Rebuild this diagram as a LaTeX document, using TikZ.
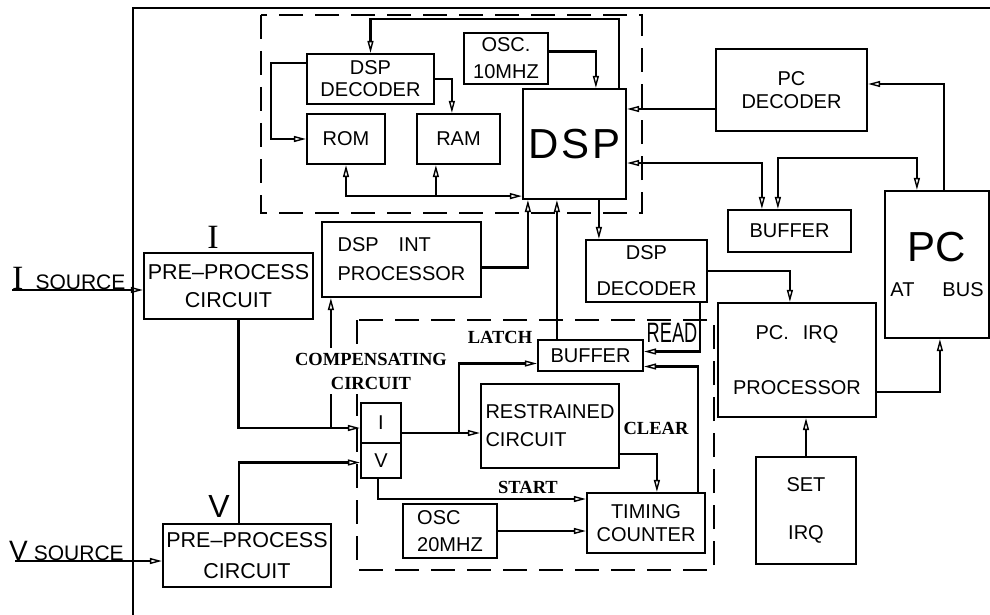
\documentclass[tikz,border=0pt]{standalone}
\usepackage{fontspec}
\setmainfont{Liberation Sans}
\newfontfamily\lblserif{Liberation Serif}
\usepackage{graphicx}
\usetikzlibrary{arrows.meta,positioning}

\begin{document}
\begin{tikzpicture}[
        x=1pt,y=-1pt,
        >={Triangle[open,length=12pt,width=6pt,line width=1.4pt]},
        blk/.style={draw,line width=2.2pt,align=center,inner sep=2pt,
                    font=\fontsize{20}{27}\selectfont},
        grp/.style={draw,line width=2.2pt,dash pattern=on 24pt off 12pt},
        arr/.style={line width=2.2pt,->},
        arrb/.style={line width=2.2pt,<->},
        tag/.style={font=\lblserif\bfseries\fontsize{18.5}{24}\selectfont,
                    align=center,inner sep=1pt}]

        \useasboundingbox (0,0) rectangle (990,615);
        \draw[line width=2.2pt] (133,615) -- (133,8) -- (990,8);

        \draw[grp] (261,15) rectangle (642,213);
        \draw[grp] (357,320) rectangle (714,570);

        \node[blk,minimum width=127pt,minimum height=50pt,font=\fontsize{20}{22}\selectfont]
              (ddec1) at (370.5,79) {DSP\\DECODER};
        \node[blk,minimum width=78pt,minimum height=50pt] (rom) at (346,139) {ROM};
        \node[blk,minimum width=83pt,minimum height=50pt] (ram) at (458.5,139) {RAM};
        \node[blk,minimum width=84pt,minimum height=51pt] (osc10) at (506,58.5) {OSC.\\10MHZ};
        \node[blk,minimum width=103pt,minimum height=110pt,font=\fontsize{42}{42}\selectfont,
              text depth=-6pt]
              (dsp) at (574.5,144) {D\hspace{3pt}S\hspace{3pt}P};
        \node[blk,minimum width=151pt,minimum height=82pt,font=\fontsize{20}{23}\selectfont]
              (pcdec) at (791.5,90) {PC\\DECODER};
        \node[blk,minimum width=123pt,minimum height=42pt] (buf1) at (789.5,231) {BUFFER};
        \node[blk,minimum width=104pt,minimum height=147pt,font=\fontsize{20}{35}\selectfont]
              (pcbus) at (937,264.5) {{\fontsize{42}{42}\selectfont PC}\\AT\hspace{28pt}BUS};
        \node[blk,minimum width=121pt,minimum height=62pt,font=\fontsize{20}{36}\selectfont]
              (ddec2) at (646.5,271) {DSP\\DECODER};
        \node[blk,minimum width=158pt,minimum height=114pt,font=\fontsize{20}{55}\selectfont]
              (irqp) at (797,360) {PC.\hspace{14pt}IRQ\\PROCESSOR};
        \node[blk,minimum width=100pt,minimum height=107pt,font=\fontsize{20}{48}\selectfont]
              (setirq) at (806,510.5) {SET\\IRQ};
        \node[blk,minimum width=159pt,minimum height=75pt,align=left,font=\fontsize{20}{29}\selectfont]
              (dspint) at (401.5,259.5) {DSP\hspace{20pt}INT\\PROCESSOR};
        \node[blk,minimum width=169pt,minimum height=66pt,font=\fontsize{21.5}{28}\selectfont]
              (pre1) at (228.5,286) {PRE–PROCESS\\CIRCUIT};
        \node[blk,minimum width=168pt,minimum height=63pt,font=\fontsize{21.5}{31}\selectfont]
              (pre2) at (247,555.5) {PRE–PROCESS\\CIRCUIT};
        \node[blk,minimum width=105pt,minimum height=31pt] (buf2) at (590.5,355.5) {BUFFER};
        \node[blk,minimum width=40pt,minimum height=40pt] (ibox) at (381,423) {I};
        \node[blk,minimum width=40pt,minimum height=35pt] (vbox) at (381,460.5) {V};
        \node[blk,minimum width=138pt,minimum height=84pt,align=left,font=\fontsize{20}{28}\selectfont]
              (restr) at (550,426) {RESTRAINED\\CIRCUIT};
        \node[blk,minimum width=118pt,minimum height=60pt,font=\fontsize{20}{23}\selectfont]
              (timing) at (646,523) {TIMING\\COUNTER};
        \node[blk,minimum width=94pt,minimum height=54pt,align=left,font=\fontsize{20}{27}\selectfont]
              (osc20) at (450,531) {OSC\\20MHZ};

        \draw[arr] ([xshift=-8pt]dsp.north east) -- ++(0,-69) -| (ddec1.north);
        \draw[arr] ([yshift=7pt]osc10.east) -| ([xshift=74pt]dsp.north west);
        \draw[arr] (ddec1.east) -| ([xshift=36pt]ram.north west);
        \draw[arr] ([yshift=16pt]ddec1.west) -- ++(-35,0) |- (rom.west);
        \coordinate (bus) at ([yshift=4pt]dsp.south west);
        \coordinate (rb) at ([xshift=20pt]ram.south west);
        \draw[arrb] (rom.south) |- (bus);
        \draw[arr] (rb |- bus) -- (rb);

        \coordinate (pd) at ([yshift=-19pt]pcdec.west);
        \draw[arr] (pd) -- (pd -| dsp.east);
        \draw[arr] ([xshift=60pt]pcbus.north west) |- ([yshift=6pt]pcdec.east);
        \draw[arrb] ([yshift=-19pt]dsp.east) -| ([xshift=35pt]buf1.north west);
        \draw[arrb] ([xshift=51pt]buf1.north west) -- ++(0,-51) -| ([xshift=33pt]pcbus.north west);
        \draw[arr] ([xshift=77pt]dsp.south west) -- ([xshift=14pt]ddec2.north west);
        \draw[arr] (ddec2.east) -| ([xshift=73pt]irqp.north west);
        \draw[arr] ([yshift=-32pt]irqp.east) -| ([xshift=56pt]pcbus.south west);
        \draw[arr] (setirq.north) -- (setirq.north |- irqp.south);

        \draw[arr] ([yshift=-8pt]dspint.east) -| ([xshift=6pt]dsp.south west);
        \coordinate (bt) at ([xshift=20pt]buf2.north west);
        \draw[arr] (bt) -- (bt |- dsp.south);
        \draw[arr] ([xshift=-8pt]ddec2.south east) |- ([yshift=4pt]buf2.east);
        \draw[arr] ([xshift=-8pt]timing.north east) |- ([yshift=-11pt]buf2.east);

        \coordinate (ii) at ([yshift=-5pt]ibox.west);
        \draw[arr] ([xshift=10pt]pre1.south) |- (ii);
        \coordinate (cj) at ([xshift=10pt]dspint.south west);
        \draw[arr] (cj |- ii) -- (cj);
        \draw[arr] ([xshift=-8pt]pre2.north) |- ([yshift=-2pt]vbox.west);
        \coordinate (io) at ([yshift=-10pt]ibox.east);
        \coordinate (ir) at (io -| restr.west);
        \draw[arr] (io) -- (ir);
        \draw[arr] ([xshift=-21pt]ir) |- ([yshift=-8pt]buf2.west);
        \draw[arr] ([yshift=-28pt]restr.east) -| ([xshift=71pt]timing.north west);
        \draw[arr] ([xshift=-3pt]vbox.south) |- ([yshift=24pt]timing.west);
        \draw[arr] (osc20.east) -- (osc20.east -| timing.west);

        \coordinate (isrc) at (12,290);
        \coordinate (vsrc) at (15,561);
        \draw[arr] (isrc) -- (isrc -| pre1.west);
        \draw[arr] (vsrc) -- (vsrc -| pre2.west);

        \node[anchor=base west,inner sep=0pt] (isrclbl) at (12,289)
              {{\lblserif\fontsize{34}{34}\selectfont I}\hspace{12pt}{\fontsize{21}{21}\selectfont SOURCE}};
        \node[anchor=base west,inner sep=0pt] (vsrclbl) at (9,560)
              {{\fontsize{28}{28}\selectfont V}\hspace{6pt}{\fontsize{21}{21}\selectfont SOURCE}};
        \node[font=\lblserif\fontsize{34}{34}\selectfont,inner sep=0pt] (ilbl) at (213,237) {I};
        \node[font=\fontsize{32}{32}\selectfont,inner sep=0pt] (vlbl) at (219,506) {V};

        \node[tag] (latch) at (500,337) {LATCH};
        \node[tag] (clear) at (656,428) {CLEAR};
        \node[tag] (start) at (528,487) {START};
        \node[font=\fontsize{28}{28}\selectfont,inner sep=0pt] (read) at (672,333)
              {\scalebox{0.65}[1]{READ}};
        \node[tag,fill=white,inner sep=5pt] (comp) at (371,371) {COMPENSATING\\CIRCUIT};

    \end{tikzpicture}
\end{document}
